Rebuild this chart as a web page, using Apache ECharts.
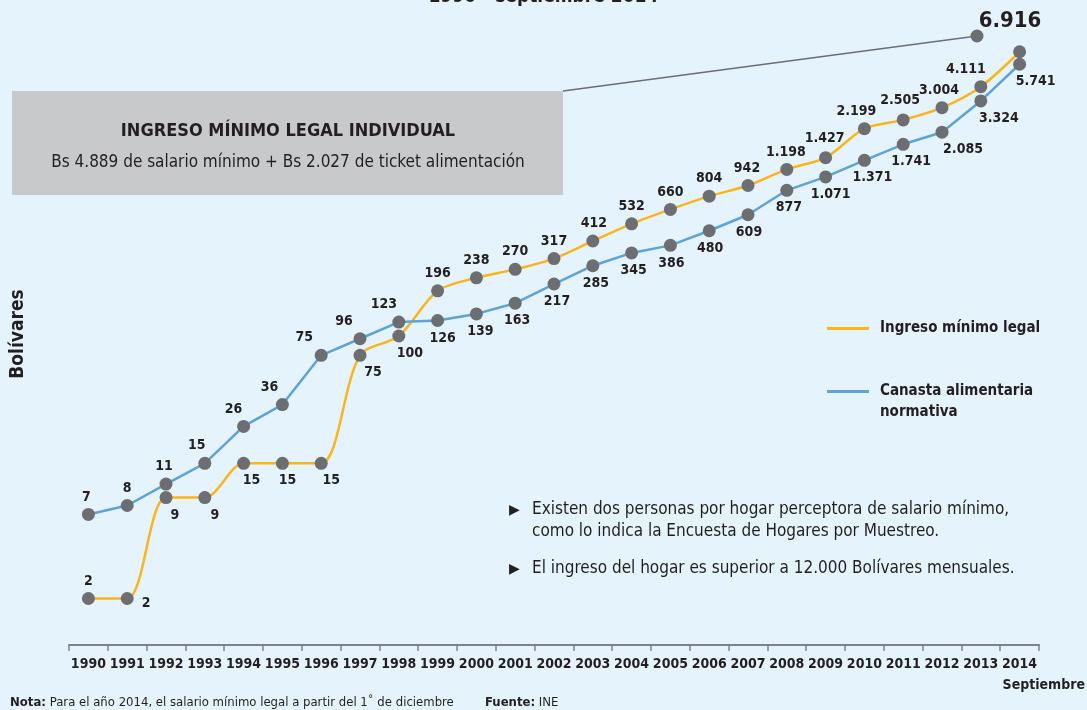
<!DOCTYPE html>
<html>
<head>
<meta charset="utf-8">
<script src="https://cdn.jsdelivr.net/npm/echarts@6/dist/echarts.min.js"></script>
<style>
  html, body { margin: 0; padding: 0; background: #e5f4fc; }
  #echart { width: 1087px; height: 710px; }
</style>
</head>
<body>
<div id="echart"></div>
<script>
var years = ['1990','1991','1992','1993','1994','1995','1996','1997','1998','1999','2000','2001','2002',
             '2003','2004','2005','2006','2007','2008','2009','2010','2011','2012','2013','2014'];
var ingreso = [2, 2, 9, 9, 15, 15, 15, 75, 100, 196, 238, 270, 317, 412, 532, 660, 804, 942,
               1198, 1427, 2199, 2505, 3004, 4111, 6916];
var canasta = [7, 8, 11, 15, 26, 36, 75, 96, 123, 126, 139, 163, 217, 285, 345, 386, 480, 609,
               877, 1071, 1371, 1741, 2085, 3324, 5741];

var font = '"DejaVu Sans Condensed", sans-serif';
var ink = '#231f20';

// colocación de etiquetas: [posición, dx, dy]
var ingresoLbl = [['top',0,0],['right',4,5],['bottom',9,0],['bottom',10,0],['bottom',8,0],['bottom',5,0],
  ['bottom',10,0],['bottom',13,0],['bottom',11,0],['top',0,0],['top',0,0],['top',0,0],['top',0,0],
  ['top',1,0],['top',0,0],['top',0,0],['top',0,0],['top',-1,0],['top',-1,0],['top',-1,-2],
  ['top',-8,0],['top',-3,-2],['top',-3,0],['top',-15,0],null];
var canastaLbl = [['top',-2,0],['top',0,0],['top',-2,0],['top',-8,0],['top',-10,0],['top',-13,0],
  ['top',-17,0],['top',-16,0],['top',-15,0],['bottom',5,0],['bottom',4,0],['bottom',2,0],
  ['bottom',3,0],['bottom',3,0],['bottom',2,0],['bottom',1,0],['bottom',1,0],['bottom',1,0],
  ['bottom',2,0],['bottom',5,0],['bottom',8,0],['bottom',8,0],['bottom',21,0],['bottom',18,0],['bottom',16,0]];

function fmt(v) {
  return String(v).replace(/\B(?=(\d{3})+(?!\d))/g, '.');
}
function build(values, lbl) {
  return values.map(function (v, i) {
    var l = lbl[i];
    if (!l) return { value: v, label: { show: false } };
    return { value: v, label: { position: l[0], offset: [l[1], l[2]] } };
  });
}

var legendText = { fontFamily: font, fontWeight: 'bold', fontSize: 15, color: ink, padding: [0, 0, 0, 6] };
var valueLabel = { show: true, fontFamily: font, fontWeight: 'bold', fontSize: 14, color: ink, distance: 4,
                   formatter: function (p) { return fmt(p.value); } };

var myChart = echarts.init(document.getElementById('echart'));
var option = {
  backgroundColor: '#e5f4fc',
  animation: false,
  grid: { left: 69, right: 48, top: 27, bottom: 65 },
  legend: [
    {
      left: 822, top: 316, itemWidth: 42, itemHeight: 3, icon: 'rect',
      data: [{ name: 'Ingreso mínimo legal', itemStyle: { color: '#fbb41a' } }],
      textStyle: legendText
    },
    {
      left: 822, top: 379, itemWidth: 42, itemHeight: 3, icon: 'rect',
      data: [{ name: 'Canasta alimentaria normativa', itemStyle: { color: '#5ba3d9' } }],
      formatter: function () { return 'Canasta alimentaria'; },
      textStyle: legendText
    }
  ],
  xAxis: {
    type: 'category',
    data: years,
    boundaryGap: true,
    axisLine: { show: true, lineStyle: { color: '#808285', width: 2 } },
    axisTick: { show: true, alignWithLabel: false, interval: 0, inside: false, length: 6,
                lineStyle: { color: '#808285', width: 1.5 } },
    axisLabel: { interval: 0, margin: 12, fontFamily: font, fontWeight: 'bold', fontSize: 14, color: ink }
  },
  yAxis: {
    type: 'log',
    logBase: 10,
    min: 1,
    max: 10000,
    show: false
  },
  series: [
    {
      name: 'Ingreso mínimo legal',
      type: 'line',
      smooth: 0.3,
      symbol: 'circle',
      symbolSize: 13,
      itemStyle: { color: '#6d6e71' },
      lineStyle: { color: '#fbb41a', width: 2.5 },
      label: valueLabel,
      data: build(ingreso, ingresoLbl),
      z: 2
    },
    {
      name: 'Canasta alimentaria normativa',
      type: 'line',
      symbol: 'circle',
      symbolSize: 13,
      itemStyle: { color: '#6d6e71' },
      lineStyle: { color: '#5ba3d9', width: 2.5 },
      label: valueLabel,
      data: build(canasta, canastaLbl),
      z: 3
    }
  ],
  graphic: [
    { type: 'text', left: 'center', top: -12, style: { text: '1990 - septiembre 2014', font: 'bold 19px ' + font, fill: ink } },
    { type: 'text', x: 18, y: 334, rotation: Math.PI / 2, style: { text: 'Bolívares', font: 'bold 19px ' + font, fill: ink, align: 'center', verticalAlign: 'middle' } },
    { type: 'line', shape: { x1: 563, y1: 91, x2: 977, y2: 36 }, style: { stroke: '#6d6e71', lineWidth: 1.3 } },
    { type: 'rect', shape: { x: 12, y: 91, width: 551, height: 104 }, style: { fill: '#c8c9cb' } },
    { type: 'text', x: 288, y: 131, style: { text: 'INGRESO MÍNIMO LEGAL INDIVIDUAL', font: 'bold 18px ' + font, fill: ink, align: 'center', verticalAlign: 'middle' } },
    { type: 'text', x: 288, y: 163, style: { text: 'Bs 4.889 de salario mínimo + Bs 2.027 de ticket alimentación', font: '17px ' + font, fill: ink, align: 'center', verticalAlign: 'middle' } },
    { type: 'circle', shape: { cx: 977, cy: 36, r: 6.5 }, style: { fill: '#6d6e71' } },
    { type: 'text', x: 1010, y: 21, style: { text: '6.916', font: 'bold 22px ' + font, fill: ink, align: 'center', verticalAlign: 'middle' } },
    { type: 'text', x: 880, y: 412, style: { text: 'normativa', font: 'bold 15px ' + font, fill: ink, verticalAlign: 'middle' } },
    { type: 'text', x: 509, y: 510, style: { text: '▶', font: '14px "DejaVu Sans"', fill: ink, verticalAlign: 'middle' } },
    { type: 'text', x: 532, y: 499, style: { text: 'Existen dos personas por hogar perceptora de salario mínimo,\ncomo lo indica la Encuesta de Hogares por Muestreo.', font: '17px ' + font, fill: ink, lineHeight: 22, verticalAlign: 'top' } },
    { type: 'text', x: 509, y: 569, style: { text: '▶', font: '14px "DejaVu Sans"', fill: ink, verticalAlign: 'middle' } },
    { type: 'text', x: 532, y: 569, style: { text: 'El ingreso del hogar es superior a 12.000 Bolívares mensuales.', font: '17px ' + font, fill: ink, verticalAlign: 'middle' } },
    { type: 'text', x: 1085, y: 685, style: { text: 'Septiembre', font: 'bold 14px ' + font, fill: ink, align: 'right', verticalAlign: 'middle' } },
    { type: 'text', x: 10, y: 703, style: { text: '{b|Nota:} Para el año 2014, el salario mínimo legal a partir del 1˚ de diciembre', font: '13px ' + font, fill: ink, verticalAlign: 'middle', rich: { b: { fontWeight: 'bold', fontFamily: font, fontSize: 13 } } } },
    { type: 'text', x: 485, y: 703, style: { text: '{b|Fuente:} INE', font: '13px ' + font, fill: ink, verticalAlign: 'middle', rich: { b: { fontWeight: 'bold', fontFamily: font, fontSize: 13 } } } }
  ]
};
myChart.setOption(option);
window.onresize = myChart.resize;
</script>
</body>
</html>
